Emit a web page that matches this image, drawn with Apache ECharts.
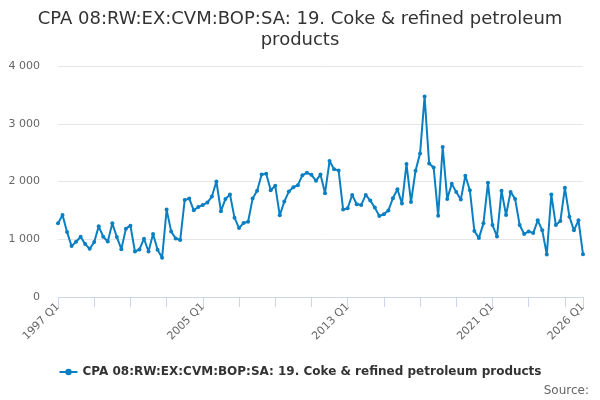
<!DOCTYPE html>
<html>
<head>
<meta charset="utf-8">
<script src="https://cdn.jsdelivr.net/npm/echarts@6/dist/echarts.min.js"></script>
<style>
  html, body { margin: 0; padding: 0; background: #fff; }
  #chart { width: 600px; height: 400px; }
</style>
</head>
<body>
<div id="chart"></div>
<script>
// quarters 1997 Q1 .. 2026 Q1
var quarters = [];
for (var y = 1997; y <= 2026; y++) {
  for (var q = 1; q <= 4; q++) {
    if (y === 2026 && q > 1) break;
    quarters.push(y + ' Q' + q);
  }
}

// values
var values = [
  1275, 1420, 1125, 881, 957, 1043, 916, 835, 951, 1223,
  1043, 962, 1275, 1038, 829, 1183, 1235, 788, 823, 1009,
  788, 1090, 817, 678, 1513, 1136, 1014, 986, 1681, 1704,
  1501, 1559, 1594, 1635, 1739, 2000, 1487, 1699, 1774, 1374,
  1194, 1281, 1304, 1704, 1838, 2122, 2133, 1849, 1925, 1414,
  1652, 1826, 1901, 1936, 2110, 2151, 2116, 2012, 2122, 1797,
  2354, 2214, 2191, 1513, 1536, 1768, 1606, 1594, 1768, 1670,
  1548, 1403, 1432, 1500, 1710, 1867, 1617, 2301, 1646, 2186,
  2487, 3472, 2313, 2243, 1409, 2597, 1699, 1959, 1820, 1687,
  2099, 1849, 1142, 1020, 1275, 1977, 1246, 1049, 1838, 1420,
  1820, 1699, 1246, 1090, 1136, 1107, 1328, 1154, 736, 1774,
  1246, 1316, 1890, 1391, 1154, 1328, 742
];

var yTicks = [0, 1000, 2000, 3000, 4000];
var seriesName = 'CPA 08:RW:EX:CVM:BOP:SA: 19. Coke & refined petroleum products';

var last = quarters.length - 1;
var chart = echarts.init(document.getElementById('chart'));

var option = {
  animation: false,
  textStyle: { fontFamily: 'DejaVu Sans' },
  title: {
    text: 'CPA 08:RW:EX:CVM:BOP:SA: 19. Coke & refined petroleum\nproducts',
    left: 'center',
    top: 4,
    textStyle: { fontSize: 18, fontWeight: 'normal', color: '#333333', lineHeight: 21 }
  },
  legend: {
    bottom: 17,
    left: 'center',
    itemWidth: 18,
    itemHeight: 8,
    textStyle: { fontSize: 12, fontWeight: 'bold', color: '#333333' },
    data: [seriesName]
  },
  graphic: [{
    type: 'text',
    right: 11,
    bottom: 3,
    style: { text: 'Source:', fontSize: 12, fill: '#666666', fontFamily: 'DejaVu Sans' }
  }],
  grid: { left: 58, right: 17, top: 66, bottom: 103 },
  xAxis: {
    type: 'category',
    data: quarters,
    boundaryGap: false,
    axisLine: { lineStyle: { color: '#ccd6eb' } },
    axisTick: {
      length: 10,
      lineStyle: { color: '#ccd6eb' },
      interval: function (i) { return i % 8 === 0 || i === last; }
    },
    axisLabel: {
      rotate: 45,
      fontSize: 11,
      color: '#666666',
      margin: 8,
      interval: function (i) { return i % 32 === 0 || i === last; }
    },
    splitLine: { show: false }
  },
  yAxis: {
    type: 'value',
    min: yTicks[0],
    max: yTicks[yTicks.length - 1],
    interval: 1000,
    axisLine: { show: false },
    axisTick: { show: false },
    axisLabel: {
      fontSize: 11,
      color: '#666666',
      margin: 18,
      formatter: function (v) {
        return String(v).replace(/\B(?=(\d{3})+(?!\d))/g, ' ');
      }
    },
    splitLine: { lineStyle: { color: '#e6e6e6' } }
  },
  series: [{
    name: seriesName,
    type: 'line',
    data: values,
    color: '#0a7fc2',
    lineStyle: { width: 2 },
    symbol: 'circle',
    symbolSize: 4,
    showSymbol: true,
    showAllSymbol: true
  }]
};

chart.setOption(option);
</script>
</body>
</html>
